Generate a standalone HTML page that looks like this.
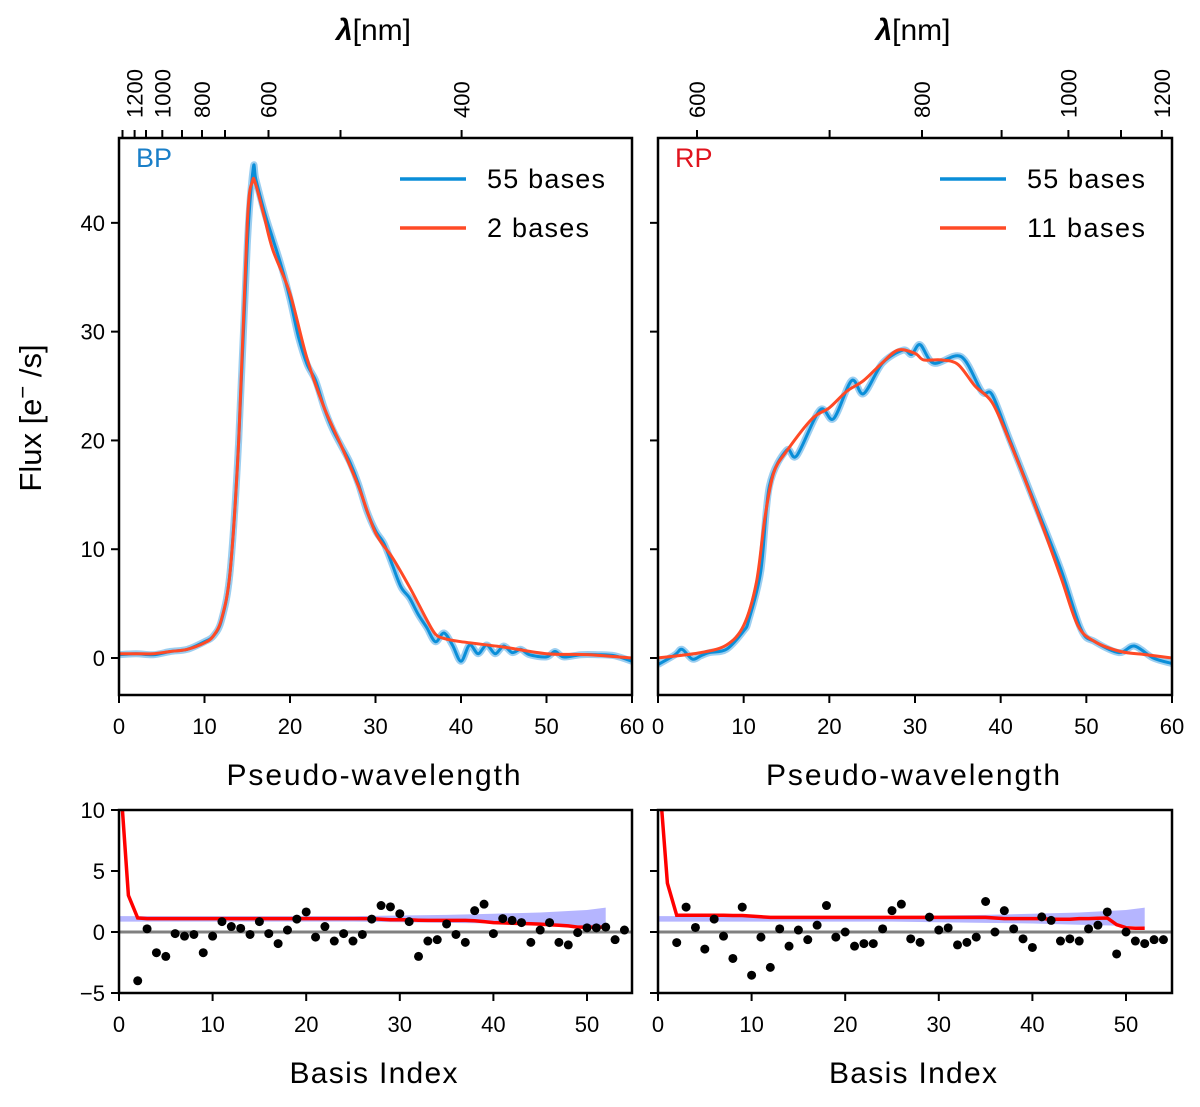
<!DOCTYPE html>
<html><head><meta charset="utf-8"><style>
html,body{margin:0;padding:0;background:#fff;}
svg{display:block;font-family:"Liberation Sans",sans-serif;}
</style></head><body>
<svg id="fig" width="1200" height="1107" viewBox="0 0 1200 1107" xmlns="http://www.w3.org/2000/svg"></svg>
<script>
// ---- data ----
const bpBlueX = [0,2,4,6,8,10,11,12,13,14,15,15.7,16,17,18,19,20,21,22,23,24,25,26,27,28,29,30,31,32,33,34,35,36,37,38,39,40,41,42,43,44,45,46,47,48,50,51,52,54,56,58,60];
const bpBlueY = [0.3,0.4,0.3,0.6,0.8,1.5,2,3.5,8,20,38,45,44,41,38.5,36,33,29.5,27,25.5,23,21,19.5,18,16,13.5,11.7,10.5,8.5,6.5,5.5,4,2.8,1.5,2.3,1.2,-0.3,1.2,0.4,1.2,0.4,1.1,0.5,0.8,0.3,0.1,0.6,0.1,0.3,0.3,0.2,-0.3];
const bpRedX = [0,2,4,6,8,10,11,12,13,14,15,15.6,16,17,18,20,22,24,26,28,30,32,34,36,37,38,40,45,50,55,60];
const bpRedY = [0.4,0.4,0.4,0.6,0.8,1.4,2,3.6,8,20,40,43.8,43.5,40.5,37.5,33.5,27.5,23,19.5,15.8,11.5,9.2,6.5,3.5,2.2,1.8,1.5,1.0,0.4,0.3,0.0];
const rpBlueX = [0,2,2.8,4,5,6,8,10,10.6,12,13,15,16.2,18.9,20.5,22.6,24,26.2,28.6,29.6,30.6,32.2,35.4,37.8,39,41,43.8,47,49.4,51,53.8,55.6,57.8,60];
const rpBlueY = [-0.6,0.3,0.8,-0.1,0.2,0.5,0.8,2.5,3.5,8,15.8,19.1,18.6,22.8,22,25.5,24.3,27.1,28.3,27.9,28.8,27.1,27.7,24.5,24.2,20.2,14.6,8.2,2.6,1.5,0.5,1.1,0,-0.5];
const rpRedX = [0,5,8,10,11.5,12.5,13.5,15,18,20,22,24,26,28,30,31,33,35,37,39,41,44,47,49,51,54,57,60];
const rpRedY = [0,0.5,1.2,3,7,13,17,19,22,23,24.5,25.5,27,28.3,28,27.4,27.4,27,25,23.5,20,14,7.5,3,1.5,0.6,0.3,0];
const bpCoef = [null,null,-4.0,0.26,-1.7,-2.0,-0.13,-0.34,-0.2,-1.7,-0.34,0.85,0.45,0.3,-0.2,0.85,-0.13,-0.95,0.16,1.06,1.64,-0.42,0.45,-0.74,-0.13,-0.74,-0.2,1.06,2.17,2.06,1.5,0.85,-2.0,-0.74,-0.63,0.66,-0.2,-0.85,1.75,2.28,-0.13,1.1,0.95,0.77,-0.85,0.16,0.77,-0.85,-1.06,-0.05,0.34,0.34,0.4,-0.63,0.16];
const rpCoef = [null,null,-0.87,2.04,0.37,-1.4,1.06,-0.34,-2.17,2.04,-3.54,-0.42,-2.9,0.26,-1.16,0.16,-0.63,0.56,2.17,-0.42,0,-1.16,-0.95,-0.95,0.26,1.75,2.28,-0.56,-0.85,1.22,0.16,0.34,-1.06,-0.85,-0.42,2.5,0,1.75,0.26,-0.56,-1.27,1.24,0.95,-0.74,-0.56,-0.74,0.26,0.56,1.64,-1.8,0,-0.74,-0.95,-0.63,-0.63];
const bpNoise = [14,3.0,1.15,1.1,1.1,1.1,1.1,1.1,1.1,1.1,1.1,1.1,1.1,1.1,1.1,1.1,1.1,1.1,1.1,1.1,1.1,1.1,1.1,1.1,1.1,1.1,1.1,1.1,1.05,1.0,1.0,1.0,0.97,0.95,0.95,0.95,0.95,0.95,0.93,0.85,0.77,0.75,0.72,0.7,0.68,0.65,0.6,0.55,0.5,0.4,0.4,0.4,0.4];
const rpNoise = [14,4.0,1.37,1.37,1.37,1.37,1.37,1.37,1.35,1.35,1.3,1.25,1.2,1.2,1.2,1.2,1.2,1.2,1.2,1.2,1.2,1.2,1.2,1.2,1.2,1.2,1.2,1.2,1.2,1.2,1.2,1.2,1.2,1.2,1.2,1.2,1.15,1.1,1.1,1.1,1.1,1.1,1.05,1.05,1.05,1.1,1.1,1.12,1.15,0.6,0.35,0.3,0.3];
const bandLo = [0.85,0.85,0.85,0.85,0.85,0.85,0.8,0.75,0.7,0.6,0.5,0.45];
const bandHi = [1.3,1.3,1.3,1.3,1.3,1.3,1.35,1.4,1.5,1.6,1.8,2.0];
const bandX = [0,5,10,15,20,25,30,35,40,45,50,52];
const fluxTicks = [0,10,20,30,40];
const pwTicks = [0,10,20,30,40,50,60];
const coefTicksY = [10,5,0,-5];
const coefTicksX = [0,10,20,30,40,50];
const bpLamTicks = [[134.6,"1200"],[162.3,"1000"],[202,"800"],[268.5,"600"],[461.6,"400"],[122.5,""],[146,""],[182,""],[225,""],[340.5,""]];
const rpLamTicks = [[697,"600"],[922,"800"],[1068.4,"1000"],[1161.8,"1200"],[829.6,""],[1001.6,""],[1121,""]];

const NS="http://www.w3.org/2000/svg";
const svg=document.getElementById('fig');
function mk(tag,attrs,parent){const e=document.createElementNS(NS,tag);for(const k in attrs)e.setAttribute(k,attrs[k]);(parent||svg).appendChild(e);return e;}
function txt(s,attrs,parent){const e=mk('text',attrs,parent);e.textContent=s;return e;}

function panel(name,L,R,T,B,x0,x1,y0,y1){
  const g=mk('g',{});
  
  
  const sx=v=>L+(v-x0)/(x1-x0)*(R-L);
  const sy=v=>B-(v-y0)/(y1-y0)*(B-T);
  return {g,sx,sy,L,R,T,B};
}
function pathD(xs,ys,p){return xs.map((x,i)=>(i?'L':'M')+p.sx(x).toFixed(1)+','+p.sy(ys[i]).toFixed(1)).join('');}
function smoothD(xs,ys,p){
  const P=xs.map((x,i)=>[p.sx(x),p.sy(ys[i])]);
  let d='M'+P[0][0].toFixed(1)+','+P[0][1].toFixed(1);
  for(let i=0;i<P.length-1;i++){
    const p0=P[Math.max(0,i-1)],p1=P[i],p2=P[i+1],p3=P[Math.min(P.length-1,i+2)];
    const t=0.16;
    const c1=[p1[0]+(p2[0]-p0[0])*t,p1[1]+(p2[1]-p0[1])*t];
    const c2=[p2[0]-(p3[0]-p1[0])*t,p2[1]-(p3[1]-p1[1])*t];
    d+='C'+c1[0].toFixed(1)+','+c1[1].toFixed(1)+' '+c2[0].toFixed(1)+','+c2[1].toFixed(1)+' '+p2[0].toFixed(1)+','+p2[1].toFixed(1);
  }
  return d;
}
function clip(p,id){const d=mk('clipPath',{id:id});mk('rect',{x:p.L,y:p.T,width:p.R-p.L,height:p.B-p.T},d);return 'url(#'+id+')';}
function frame(p){const r=mk('rect',{x:p.L,y:p.T,width:p.R-p.L,height:p.B-p.T,fill:'none',stroke:'#000','stroke-width':2.5},p.g);}

// ---- top panels ----
function topPanel(name,L,R,bx,by,rx,ry,lamTicks,tag,tagColor,redLabel,showY){
  const p=panel(name,L,R,138,695,0,60,-3.4,47.8);
  const c=clip(p,name+'-clip');
  const band=mk('path',{d:smoothD(bx,by,p),fill:'none',stroke:'#5aaee6','stroke-opacity':0.6,'stroke-width':7,'stroke-linejoin':'round','clip-path':c},p.g);
  
  const bl=mk('path',{d:smoothD(bx,by,p),fill:'none',stroke:'#0a8ed8','stroke-width':3,'stroke-linejoin':'round','clip-path':c},p.g);
  
  const rl=mk('path',{d:smoothD(rx,ry,p),fill:'none',stroke:'#ff4a26','stroke-width':3,'stroke-linejoin':'round','clip-path':c},p.g);
  
  frame(p);
  fluxTicks.forEach(v=>{const y=p.sy(v);mk('line',{x1:L-8,x2:L,y1:y,y2:y,stroke:'#000','stroke-width':2},p.g);
    if(showY){const t=txt(String(v),{x:L-14,y:y+8,'text-anchor':'end','font-size':22},p.g);}});
  pwTicks.forEach(v=>{const x=p.sx(v);mk('line',{x1:x,x2:x,y1:695,y2:703,stroke:'#000','stroke-width':2},p.g);
    const t=txt(String(v),{x:x,y:734,'text-anchor':'middle','font-size':22},p.g);});
  lamTicks.forEach(([x,l])=>{mk('line',{x1:x,x2:x,y1:130,y2:138,stroke:'#000','stroke-width':2},p.g);
    if(l){const t=txt(l,{x:0,y:0,'font-size':22,transform:'translate('+(x+8)+',118) rotate(-90)'},p.g);}});
  const tg=txt(tag,{x:L+17,y:167,'font-size':27,fill:tagColor},p.g);
  const lx=L+(name.startsWith('bp')?281:282);
  const l1=mk('line',{x1:lx,x2:lx+66,y1:179,y2:179,stroke:'#0a8ed8','stroke-width':3.5},p.g);
  const t1=txt('55 bases',{x:lx+87,y:188,'font-size':27,textLength:118},p.g);
  const l2=mk('line',{x1:lx,x2:lx+66,y1:228,y2:228,stroke:'#ff4a26','stroke-width':3.5},p.g);
  const t2=txt(redLabel,{x:lx+87,y:237,'font-size':27,textLength:redLabel.length>7?118:102},p.g);
  const xt=txt('Pseudo-wavelength',{x:(L+R)/2-2,y:785,'text-anchor':'middle','font-size':30,textLength:294},p.g);
  const lt=txt('',{x:(L+R)/2-2,y:40,'text-anchor':'middle','font-size':30},p.g);
  const s1=mk('tspan',{'font-weight':'bold','font-style':'italic'},lt);s1.textContent='λ';
  const s2=mk('tspan',{},lt);s2.textContent='[nm]';
}
topPanel('bp-spectrum',119,632,bpBlueX,bpBlueY,bpRedX,bpRedY,bpLamTicks,'BP','#1a7fc8','2 bases',true);
topPanel('rp-spectrum',658,1172,rpBlueX,rpBlueY,rpRedX,rpRedY,rpLamTicks,'RP','#e0141e','11 bases',false);
const yl=txt('Flux [e',{x:0,y:0,'font-size':31,transform:'translate(41,418) rotate(-90)','text-anchor':'middle'});

const sup=mk('tspan',{dy:-11,'font-size':22},yl);sup.textContent='−';
const rest=mk('tspan',{dy:11},yl);rest.textContent=' /s]';

// ---- bottom panels ----
function botPanel(name,L,R,coef,noise,showY){
  const p=panel(name,L,R,810,993,0,(R-L)/9.36,-5,10);
  const c=clip(p,name+'-clip');
  const top=bandX.map((x,i)=>p.sx(x).toFixed(1)+','+p.sy(bandHi[i]).toFixed(1));
  const bot=bandX.map((x,i)=>p.sx(x).toFixed(1)+','+p.sy(bandLo[i]).toFixed(1)).reverse();
  const bd=mk('polygon',{points:top.concat(bot).join(' '),fill:'#7878ff','fill-opacity':0.55,'clip-path':c},p.g);
  
  const zl=mk('line',{x1:L,x2:R,y1:p.sy(0),y2:p.sy(0),stroke:'#808080','stroke-width':3},p.g);
  
  const nl=mk('path',{d:pathD(noise.map((_,i)=>i),noise,p),fill:'none',stroke:'#ff0000','stroke-width':3.5,'clip-path':c},p.g);
  
  coef.forEach((v,i)=>{if(v===null)return;const d=mk('circle',{cx:p.sx(i),cy:p.sy(v),r:4.5,fill:'#000','clip-path':c},p.g);
    });
  frame(p);
  coefTicksY.forEach(v=>{const y=p.sy(v);mk('line',{x1:L-8,x2:L,y1:y,y2:y,stroke:'#000','stroke-width':2},p.g);
    if(showY){const t=txt(v<0?'−'+(-v):String(v),{x:L-14,y:y+8,'text-anchor':'end','font-size':22},p.g);}});
  coefTicksX.forEach(v=>{const x=p.sx(v);mk('line',{x1:x,x2:x,y1:993,y2:1001,stroke:'#000','stroke-width':2},p.g);
    const t=txt(String(v),{x:x,y:1032,'text-anchor':'middle','font-size':22},p.g);});
  const xt=txt('Basis Index',{x:(L+R)/2-2,y:1083,'text-anchor':'middle','font-size':30,textLength:168},p.g);
}
botPanel('bp-coefficients',119,632,bpCoef,bpNoise,true);
botPanel('rp-coefficients',658,1172,rpCoef,rpNoise,false);
</script>
</body></html>
